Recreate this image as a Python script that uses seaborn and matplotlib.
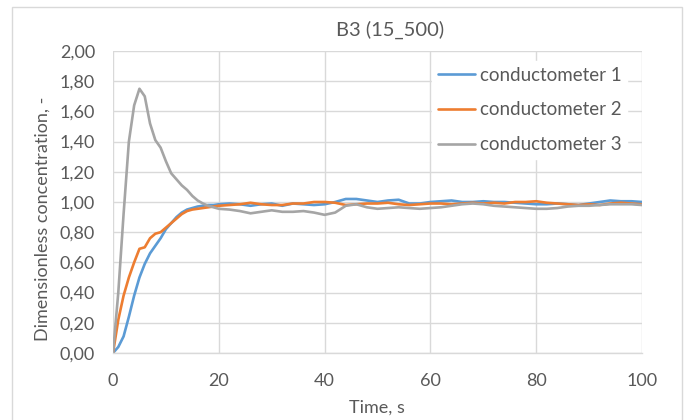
import matplotlib
matplotlib.use("Agg")
import matplotlib.pyplot as plt
from matplotlib.patches import Rectangle
from matplotlib.ticker import FuncFormatter, MultipleLocator
import pandas as pd
import seaborn as sns

# Sampling times, s
time_s = [0, 1, 2, 3, 4, 5, 6, 7, 8, 9, 10, 11, 12, 13, 14, 15, 16, 17, 18, 19, 20,
          22, 24, 26, 28, 30, 32, 34, 36, 38, 40, 42, 44, 46, 48, 50, 52, 54, 56, 58, 60,
          62, 64, 66, 68, 70, 72, 74, 76, 78, 80, 82, 84, 86, 88, 90, 92, 94, 96, 98, 100]

# Dimensionless concentration at each conductometer
cond_1 = [0.00, 0.04, 0.11, 0.24, 0.38, 0.50, 0.59, 0.66, 0.71, 0.76, 0.82, 0.86, 0.90, 0.93, 0.95,
          0.96, 0.97, 0.975, 0.98, 0.98, 0.985,
          0.99, 0.985, 0.975, 0.985, 0.99, 0.975, 0.99, 0.985, 0.98, 0.985, 1.00, 1.02, 1.02, 1.01,
          1.00, 1.01, 1.015, 0.99, 0.99, 1.00, 1.005, 1.01, 1.00, 1.00, 1.005, 1.00, 1.00, 0.995,
          0.99, 0.985, 0.985, 0.99, 0.985, 0.98, 0.99, 1.00, 1.01, 1.005, 1.005, 1.00]
cond_2 = [0.00, 0.22, 0.38, 0.50, 0.60, 0.69, 0.70, 0.76, 0.79, 0.80, 0.83, 0.86, 0.89, 0.92, 0.94,
          0.95, 0.955, 0.96, 0.965, 0.97, 0.975,
          0.98, 0.985, 0.995, 0.985, 0.98, 0.98, 0.99, 0.99, 1.00, 1.00, 0.995, 0.98, 0.985, 0.99,
          0.99, 0.995, 0.985, 0.98, 0.985, 0.99, 0.99, 0.985, 0.99, 0.995, 0.99, 0.995, 0.99, 1.00,
          1.00, 1.005, 0.995, 0.99, 0.985, 0.98, 0.985, 0.98, 0.99, 0.995, 0.99, 0.985]
cond_3 = [0.00, 0.40, 0.92, 1.40, 1.64, 1.75, 1.70, 1.52, 1.41, 1.36, 1.27, 1.19, 1.15, 1.11, 1.08,
          1.04, 1.01, 0.99, 0.975, 0.965, 0.955,
          0.95, 0.94, 0.925, 0.935, 0.945, 0.935, 0.935, 0.94, 0.93, 0.915, 0.93, 0.975, 0.985, 0.965,
          0.955, 0.96, 0.965, 0.96, 0.955, 0.96, 0.965, 0.975, 0.985, 0.99, 0.985, 0.975, 0.97, 0.965,
          0.96, 0.955, 0.955, 0.96, 0.97, 0.975, 0.975, 0.98, 0.985, 0.985, 0.985, 0.98]

series_names = ["conductometer 1", "conductometer 2", "conductometer 3"]
series_colors = ["#5B9BD5", "#ED7D31", "#A5A5A5"]

df = pd.concat(
    [pd.DataFrame({"Time": time_s, "Concentration": vals, "Series": name})
     for name, vals in zip(series_names, [cond_1, cond_2, cond_3])],
    ignore_index=True,
)

sns.set_theme(style="white")
plt.rcParams["font.family"] = ["Lato", "DejaVu Sans"]

W, H = 686, 420
PX = 72 / 100  # points per pixel at 100 dpi
x0, x1, ytop, ybot = 113, 642, 51, 353
fig = plt.figure(figsize=(W / 100, H / 100), dpi=100)
ax = fig.add_axes([x0 / W, 1 - ybot / H, (x1 - x0) / W, (ybot - ytop) / H])

# outer chart frame
fig.patches.append(Rectangle((12 / W, -0.05), (682 - 12) / W, 1.05 - 7 / H,
                             transform=fig.transFigure, fill=False,
                             edgecolor="#D9D9D9", linewidth=1.0, zorder=0))

sns.lineplot(data=df, x="Time", y="Concentration", hue="Series",
             palette=dict(zip(series_names, series_colors)),
             linewidth=1.9, ax=ax, legend=False, estimator=None, sort=False)

ax.set_xlim(0, 100)
ax.set_ylim(0, 2.0)
ax.xaxis.set_major_locator(MultipleLocator(20))
ax.yaxis.set_major_locator(MultipleLocator(0.2))
ax.yaxis.set_major_formatter(FuncFormatter(lambda v, _: f"{v:.2f}".replace(".", ",")))
ax.grid(True, color="#D9D9D9", linewidth=1.0)
ax.set_axisbelow(True)
for side in ["top", "right", "left"]:
    ax.spines[side].set_visible(False)
ax.spines["bottom"].set_color("#D9D9D9")
ax.spines["bottom"].set_linewidth(1.0)
ax.tick_params(axis="both", length=0, labelsize=13, labelcolor="#595959")
ax.tick_params(axis="y", pad=18 * PX)
ax.tick_params(axis="x", pad=20 * PX)

ax.set_xlabel("Time, s", fontsize=13, color="#595959")
ax.set_ylabel("Dimensionless concentration, -", fontsize=13, color="#595959")
ax.xaxis.set_label_coords((377 - x0) / (x1 - x0), -(400 - ybot) / (ybot - ytop))
ax.yaxis.set_label_coords(-(x0 - 51) / (x1 - x0), (ybot - 219) / (ybot - ytop))

fig.text(390 / W, 1 - 30 / H, "B3 (15_500)", ha="center", va="center",
         fontsize=14.5, color="#595959")

handles = [plt.Line2D([], [], color=c, linewidth=1.9) for c in series_colors]
leg = ax.legend(handles, series_names, loc="upper left",
                bbox_to_anchor=(432 / W, 1 - 61 / H), bbox_transform=fig.transFigure,
                frameon=True, fontsize=13.5, handlelength=2.0, handletextpad=0.25,
                labelspacing=0.95, borderpad=0.3, borderaxespad=0)
leg.get_frame().set_facecolor("white")
leg.get_frame().set_edgecolor("white")
leg.get_frame().set_alpha(1.0)
for t in leg.get_texts():
    t.set_color("#595959")

fig.savefig("out.png", dpi=100)
